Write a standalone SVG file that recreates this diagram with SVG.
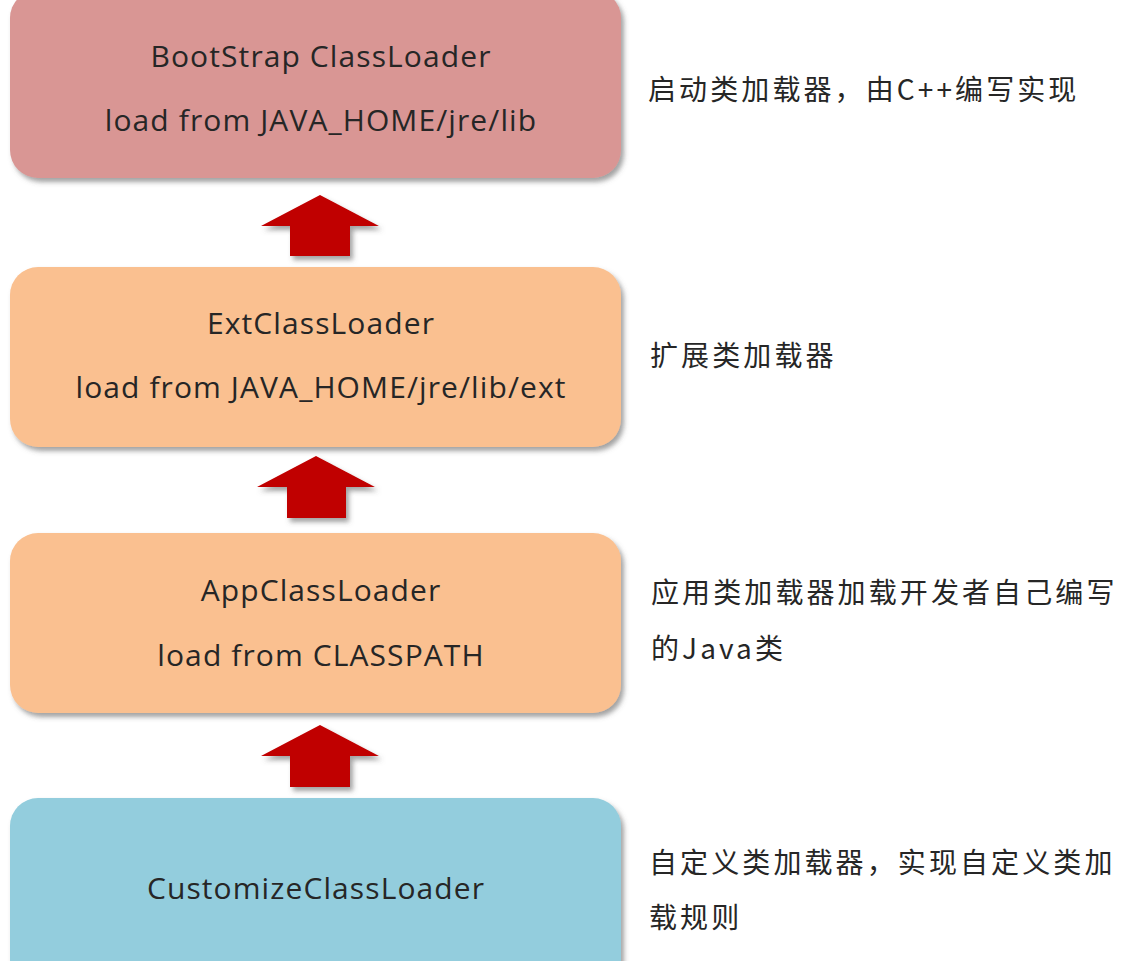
<svg xmlns="http://www.w3.org/2000/svg" width="1127" height="961" viewBox="0 0 1127 961">
<defs>
<filter id="sh" x="-10%" y="-10%" width="120%" height="130%">
<feDropShadow dx="3" dy="4" stdDeviation="2.5" flood-color="#555" flood-opacity="0.55"/>
</filter>
<style>
.box{filter:url(#sh)}
.t{font-family:"Open Sans","Noto Sans",sans-serif;font-size:30px;fill:#262626;text-anchor:middle;letter-spacing:1.1px}
.c{font-family:"Noto Sans CJK SC","Noto Sans",sans-serif;font-size:28px;fill:#262626;letter-spacing:3.1px}
.arr{fill:#C00000;filter:url(#sh)}
</style>
</defs>
<rect width="1127" height="961" fill="#fff"/>
<g id="connectors">
<polygon class="arr" points="320,195 379,226 350,226 350,256 290,256 290,226 261,226"/>
<polygon class="arr" points="316,456 375,487 346,487 346,518 287,518 287,487 257,487"/>
<polygon class="arr" points="320,725 379,756 350,756 350,787 290,787 290,756 261,756"/>
</g>
<g id="bootstrap">
<rect class="box" x="10" y="-10" width="611" height="188" rx="28" fill="#D99694"/>
<text class="t" x="321" y="67">BootStrap ClassLoader</text>
<text class="t" x="321" y="131">load from JAVA_HOME/jre/lib</text>
</g>
<g id="ext">
<rect class="box" x="10" y="267" width="611" height="180" rx="28" fill="#FAC090"/>
<text class="t" x="321" y="334">ExtClassLoader</text>
<text class="t" x="321" y="398">load from JAVA_HOME/jre/lib/ext</text>
</g>
<g id="app">
<rect class="box" x="10" y="533" width="611" height="180" rx="28" fill="#FAC090"/>
<text class="t" x="321" y="601">AppClassLoader</text>
<text class="t" x="321" y="666">load from CLASSPATH</text>
</g>
<g id="custom">
<rect class="box" x="10" y="798" width="611" height="190" rx="28" fill="#93CDDD"/>
<text class="t" x="316" y="899">CustomizeClassLoader</text>
</g>
<g id="notes">
<text class="c" x="648" y="100">启动类加载器，由C++编写实现</text>
<text class="c" x="650" y="366">扩展类加载器</text>
<text class="c" x="651" y="603">应用类加载器加载开发者自己编写</text>
<text class="c" x="651" y="659">的Java类</text>
<text class="c" x="649" y="873">自定义类加载器，实现自定义类加</text>
<text class="c" x="649" y="928">载规则</text>
</g>
</svg>
